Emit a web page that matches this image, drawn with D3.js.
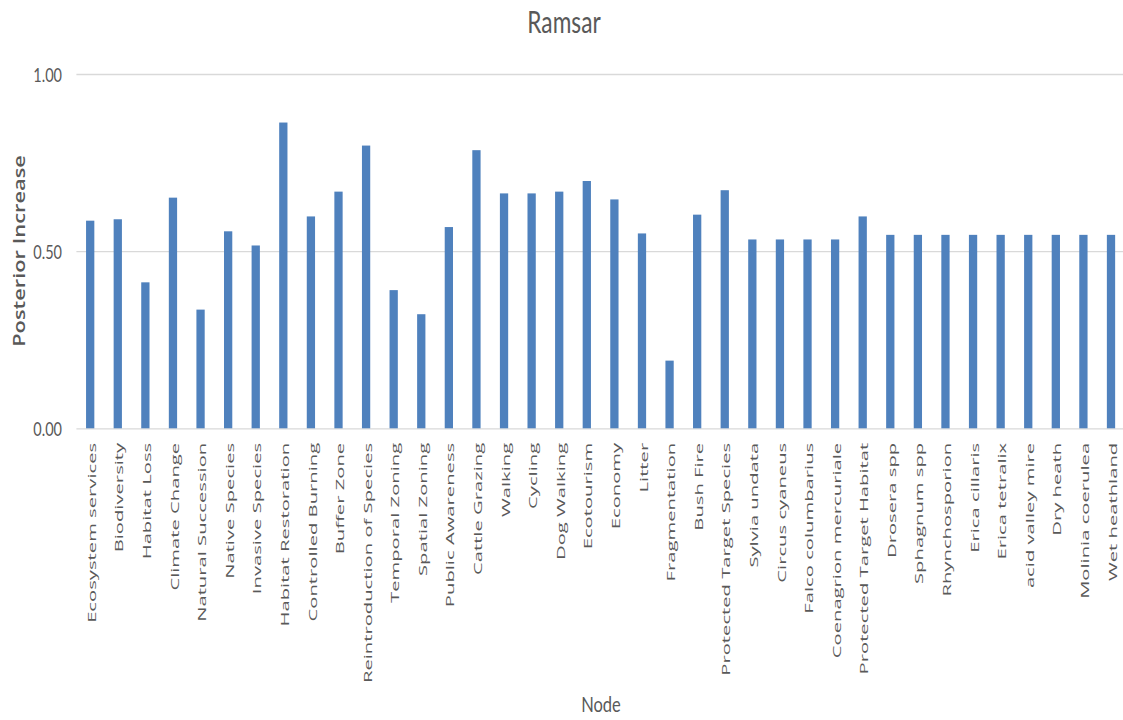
<!DOCTYPE html>
<html>
<head>
<meta charset="utf-8">
<script src="https://cdn.jsdelivr.net/npm/d3@7"></script>
<style>
  html, body { margin: 0; padding: 0; background: #ffffff; }
  svg { display: block; }
</style>
</head>
<body>
<svg id="chart" width="1123" height="720"></svg>
<script>
// Posterior increase per network node (Ramsar scenario)
const categories = [
  "Ecosystem services", "Biodiversity", "Habitat Loss", "Climate Change",
  "Natural Succession", "Native Species", "Invasive Species", "Habitat Restoration",
  "Controlled Burning", "Buffer Zone", "Reintroduction of Species", "Temporal Zoning",
  "Spatial Zoning", "Public Awareness", "Cattle Grazing", "Walking", "Cycling",
  "Dog Walking", "Ecotourism", "Economy", "Litter", "Fragmentation", "Bush Fire",
  "Protected Target Species", "Sylvia undata", "Circus cyaneus", "Falco columbarius",
  "Coenagrion mercuriale", "Protected Target Habitat", "Drosera spp", "Sphagnum spp",
  "Rhynchosporion", "Erica cillaris", "Erica tetralix", "acid valley mire",
  "Dry heath", "Molinia coerulea", "Wet heathland"
];
const posteriorIncrease = [
  0.586, 0.590, 0.412, 0.651, 0.335, 0.556, 0.516, 0.863,
  0.598, 0.668, 0.798, 0.390, 0.322, 0.568, 0.785, 0.663,
  0.663, 0.668, 0.698, 0.646, 0.550, 0.191, 0.603, 0.672,
  0.533, 0.533, 0.533, 0.533, 0.598, 0.546, 0.546, 0.546,
  0.546, 0.546, 0.546, 0.546, 0.546, 0.546
];
const yTicks = [0, 0.5, 1.0];
const chartTitle = "Ramsar";
const xTitle = "Node";
const yTitle = "Posterior Increase";

const svg = d3.select("#chart");
const textColor = "#595959";
const gridColor = "#d9d9d9";
const barColor = "#4f81bd";

const plot = { left: 76.4, right: 1124.8, top: 74, bottom: 428.3 };

const x = d3.scaleBand()
  .domain(categories)
  .range([plot.left, plot.right])
  .paddingInner(0.7)
  .paddingOuter(0.35);

const y = d3.scaleLinear()
  .domain([0, 1])
  .range([plot.bottom, plot.top]);

// Horizontal gridlines and value labels
const yAxis = d3.axisLeft(y)
  .tickValues(yTicks)
  .tickFormat(d3.format(".2f"))
  .tickSize(-(1123 - plot.left))
  .tickPadding(0);

const gy = svg.append("g")
  .attr("transform", `translate(${plot.left},0)`)
  .call(yAxis);
gy.select(".domain").remove();
gy.selectAll(".tick line")
  .attr("stroke", gridColor)
  .attr("stroke-width", 1.3);
gy.selectAll(".tick text")
  .attr("x", 0).attr("dy", null).attr("y", 0)
  .attr("transform", "translate(-14.4,7.5) scale(1,1.28)")
  .attr("text-anchor", "end")
  .attr("font-family", "Lato, sans-serif")
  .attr("font-size", 14.5)
  .attr("fill", textColor);

// Bars
svg.append("g")
  .selectAll("rect")
  .data(categories)
  .join("rect")
  .attr("x", (d) => x(d))
  .attr("width", x.bandwidth())
  .attr("y", (d, i) => y(posteriorIncrease[i]))
  .attr("height", (d, i) => y(0) - y(posteriorIncrease[i]))
  .attr("fill", barColor);

// Category labels, rotated
const xAxis = d3.axisBottom(x).tickSize(0).tickPadding(0);
const gx = svg.append("g")
  .attr("transform", `translate(0,${plot.bottom})`)
  .call(xAxis);
gx.select(".domain").remove();
gx.selectAll(".tick text")
  .attr("x", 0).attr("y", 0).attr("dy", null)
  .attr("transform", "translate(5.6,14.5) rotate(-90) scale(1.84,1)")
  .attr("text-anchor", "end")
  .attr("font-family", "'Open Sans', sans-serif")
  .attr("font-size", 11)
  .attr("fill", textColor);

// Chart title
svg.append("text")
  .attr("transform", "translate(564,33) scale(1,1.35)")
  .attr("text-anchor", "middle")
  .attr("font-family", "Lato, sans-serif")
  .attr("font-size", 22.7)
  .attr("fill", textColor)
  .text(chartTitle);

// Axis titles
svg.append("text")
  .attr("transform", "translate(601,712) scale(1,1.28)")
  .attr("text-anchor", "middle")
  .attr("font-family", "Lato, sans-serif")
  .attr("font-size", 16.5)
  .attr("fill", textColor)
  .text(xTitle);

svg.append("text")
  .attr("transform", "translate(25,251) rotate(-90) scale(1.3,1)")
  .attr("text-anchor", "middle")
  .attr("font-family", "'Open Sans', sans-serif")
  .attr("font-weight", 600)
  .attr("font-size", 16.8)
  .attr("fill", textColor)
  .text(yTitle);
</script>
</body>
</html>
